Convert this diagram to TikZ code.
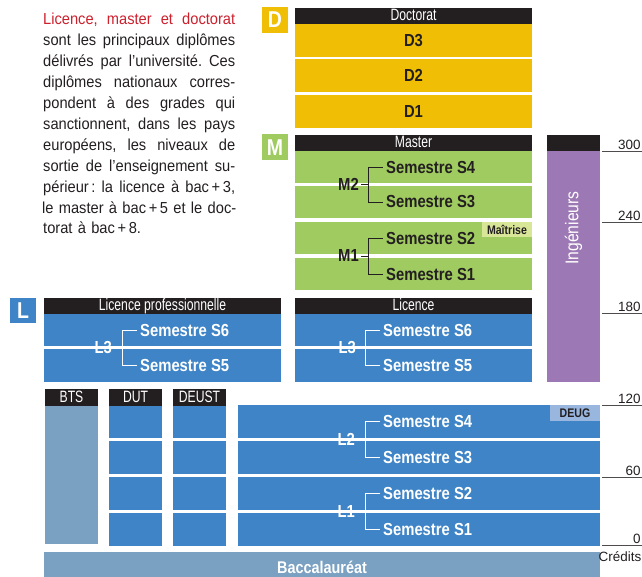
\documentclass[tikz,border=0pt]{standalone}
\usepackage{fontspec}
\setmainfont{Liberation Sans}[FakeStretch=0.85]
\newfontfamily\narrowfont{Liberation Sans}[FakeStretch=0.74]
\newfontfamily\bodyfont{Liberation Sans}[FakeStretch=0.92]
\newfontfamily\plainfont{Liberation Sans}

\definecolor{docyellow}{RGB}{240,190,5}
\definecolor{masgreen}{RGB}{160,203,96}
\definecolor{maitgreen}{RGB}{216,230,152}
\definecolor{licblue}{RGB}{62,132,198}
\definecolor{deugblue}{RGB}{152,182,222}
\definecolor{bacgrey}{RGB}{122,160,194}
\definecolor{ingviolet}{RGB}{156,120,180}
\definecolor{hdrblack}{RGB}{35,31,32}
\definecolor{introred}{RGB}{205,32,45}
\definecolor{txtdark}{RGB}{35,31,32}

\begin{document}
\begin{tikzpicture}[x=1bp,y=-1bp,
  hdr/.style={fill=hdrblack,text=white,inner sep=0pt,minimum height=16bp,
    text height=12bp,text depth=2.5bp,font=\narrowfont\fontsize{16.5}{17}\selectfont},
  badge/.style={text=white,inner sep=0pt,minimum width=26bp,minimum height=26bp,
    font=\bfseries\fontsize{23}{23}\selectfont},
  dbox/.style={fill=docyellow,text=txtdark,inner sep=0pt,minimum width=237bp,
    minimum height=33bp,font=\bfseries\fontsize{17.5}{18}\selectfont},
  sem/.style={anchor=west,inner xsep=3bp,inner ysep=0pt,font=\bfseries\fontsize{17.5}{18}\selectfont},
  yr/.style={anchor=east,inner xsep=2bp,inner ysep=0pt,font=\bfseries\fontsize{17.5}{18}\selectfont},
  brk/.style={line width=0.8bp},
  tag/.style={text=txtdark,inner sep=0pt,font=\bfseries\fontsize{12.5}{12.5}\selectfont},
  credit/.style={anchor=south east,inner sep=1bp,text=txtdark,font=\plainfont\fontsize{13.5}{14}\selectfont},
  scaleline/.style={line width=0.8bp,draw=txtdark!80}]
\useasboundingbox (0,0) rectangle (642,577);

% Intro text
\node[anchor=north west,inner sep=0pt,text width=192bp,align=left,text=txtdark,
  font=\bodyfont\fontsize{16}{21}\selectfont] (intro) at (43,13) {%
\makebox[192bp]{\color{introred}Licence,~\hfill master~\hfill et~\hfill doctorat}\\
\makebox[192bp]{sont~\hfill les~\hfill principaux~\hfill diplômes}\\
\makebox[192bp]{délivrés~\hfill par~\hfill l’université.~\hfill Ces}\\
\makebox[192bp]{diplômes~\hfill nationaux~\hfill corres-}\\
\makebox[192bp]{pondent~\hfill à~\hfill des~\hfill grades~\hfill qui}\\
\makebox[192bp]{sanctionnent,~\hfill dans~\hfill les~\hfill pays}\\
\makebox[192bp]{européens,~\hfill les~\hfill niveaux~\hfill de}\\
\makebox[192bp]{sortie~\hfill de~\hfill l’enseignement~\hfill su-}\\
\makebox[192bp]{périeur\,:~\hfill la~\hfill licence~\hfill à~\hfill bac\,+\,3,}\\
\makebox[192bp]{le~\hfill master~\hfill à~\hfill bac\,+\,5~\hfill et~\hfill le~\hfill doc-}\\
torat à bac\,+\,8.};

% Doctorat
\node[badge,fill=docyellow] (dlogo) at (275,20) {D};
\node[hdr,minimum width=237bp] (dhead) at (413.5,16) {Doctorat};
\node[dbox] (d3) at (413.5,40.5) {D3};
\node[dbox] (d2) at (413.5,75.5) {D2};
\node[dbox] (d1) at (413.5,111.5) {D1};

% Master
\node[badge,fill=masgreen] (mlogo) at (275,147.5) {M};
\node[hdr,minimum width=237bp] (mhead) at (413.5,143) {Master};
\fill[masgreen] (295,151) rectangle (532,183);
\fill[masgreen] (295,186) rectangle (532,218);
\fill[masgreen] (295,222) rectangle (532,254);
\fill[masgreen] (295,258) rectangle (532,290);
\node[tag,fill=maitgreen,minimum width=50bp,minimum height=15bp] (maitrise) at (507,229.5) {Maîtrise};
\node[sem,text=txtdark] (ms4) at (383,167) {Semestre S4};
\node[sem,text=txtdark] (ms3) at (383,202) {Semestre S3};
\node[sem,text=txtdark] (ms2) at (383,238) {Semestre S2};
\node[sem,text=txtdark] (ms1) at (383,274) {Semestre S1};
\node[yr,text=txtdark] (m2) at (361,184.5) {M2};
\node[yr,text=txtdark] (m1) at (361,256) {M1};
\draw[brk,txtdark] (ms4.west) -- ++(-15,0) coordinate (m2v) |- (ms3.west);
\draw[brk,txtdark] (m2.east) -- (m2.east -| m2v);
\draw[brk,txtdark] (ms2.west) -- ++(-15,0) coordinate (m1v) |- (ms1.west);
\draw[brk,txtdark] (m1.east) -- (m1.east -| m1v);

% Ingenieurs
\fill[hdrblack] (547,135) rectangle (600,151);
\fill[ingviolet] (547,151) rectangle (600,382);
\node[rotate=90,text=white,inner sep=0pt,font=\fontsize{18.5}{19}\selectfont] (ing) at (573.5,228) {Ingénieurs};

% Licence professionnelle
\node[badge,fill=licblue,minimum height=25bp] (llogo) at (23,310.5) {L};
\node[hdr,minimum width=237bp] (lphead) at (162.5,306) {Licence professionnelle};
\fill[licblue] (44,314) rectangle (281,346);
\fill[licblue] (44,349) rectangle (281,382);
\node[sem,text=white] (lps6) at (137,330) {Semestre S6};
\node[sem,text=white] (lps5) at (137,365.5) {Semestre S5};
\node[yr,text=white] (lpl3) at (114,347.5) {L3};
\draw[brk,white] (lps6.west) -- ++(-15,0) coordinate (lpv) |- (lps5.west);
\draw[brk,white] (lpl3.east) -- (lpl3.east -| lpv);

% Licence
\node[hdr,minimum width=237bp] (lhead) at (413.5,306) {Licence};
\fill[licblue] (295,314) rectangle (532,346);
\fill[licblue] (295,349) rectangle (532,382);
\node[sem,text=white] (ls6) at (380,330) {Semestre S6};
\node[sem,text=white] (ls5) at (380,365.5) {Semestre S5};
\node[yr,text=white] (ll3) at (358,347.5) {L3};
\draw[brk,white] (ls6.west) -- ++(-15,0) coordinate (l3v) |- (ls5.west);
\draw[brk,white] (ll3.east) -- (ll3.east -| l3v);

% BTS, DUT, DEUST
\node[hdr,minimum width=53bp,minimum height=17bp] (bts) at (71.5,397.5) {BTS};
\node[hdr,minimum width=53bp,minimum height=17bp] (dut) at (135.5,397.5) {DUT};
\node[hdr,minimum width=53bp,minimum height=17bp] (deust) at (199.5,397.5) {DEUST};
\fill[bacgrey] (45,406) rectangle (98,544);
\fill[licblue] (109,406) rectangle (162,438);
\fill[licblue] (109,441) rectangle (162,474);
\fill[licblue] (109,477) rectangle (162,510);
\fill[licblue] (109,513) rectangle (162,546);
\fill[licblue] (173,406) rectangle (226,438);
\fill[licblue] (173,441) rectangle (226,474);
\fill[licblue] (173,477) rectangle (226,510);
\fill[licblue] (173,513) rectangle (226,546);

% L1 and L2
\fill[licblue] (238,405) rectangle (600,438);
\fill[licblue] (238,441) rectangle (600,474);
\fill[licblue] (238,477) rectangle (600,510);
\fill[licblue] (238,513) rectangle (600,546);
\node[tag,fill=deugblue,minimum width=50bp,minimum height=16bp] (deug) at (575,413) {DEUG};
\node[sem,text=white] (ls4) at (380,421.5) {Semestre S4};
\node[sem,text=white] (ls3) at (380,457.5) {Semestre S3};
\node[sem,text=white] (ls2) at (380,493.5) {Semestre S2};
\node[sem,text=white] (ls1) at (380,529.5) {Semestre S1};
\node[yr,text=white] (ll2) at (357,439.5) {L2};
\node[yr,text=white] (ll1) at (357,511.5) {L1};
\draw[brk,white] (ls4.west) -- ++(-15,0) coordinate (l2v) |- (ls3.west);
\draw[brk,white] (ll2.east) -- (ll2.east -| l2v);
\draw[brk,white] (ls2.west) -- ++(-15,0) coordinate (l1v) |- (ls1.west);
\draw[brk,white] (ll1.east) -- (ll1.east -| l1v);

% Baccalaureat
\fill[bacgrey] (44,552) rectangle (600,577);
\node[anchor=base,inner sep=0pt,text=white,font=\bfseries\fontsize{17}{18}\selectfont] (bac) at (322,573) {Baccalauréat};

% Credits scale
\draw[scaleline] (602,151) -- (642,151) node[credit] (c300) {300};
\draw[scaleline] (602,222) -- (642,222) node[credit] (c240) {240};
\draw[scaleline] (602,313) -- (642,313) node[credit] (c180) {180};
\draw[scaleline] (602,405) -- (642,405) node[credit] (c120) {120};
\draw[scaleline] (602,477) -- (642,477) node[credit] (c60) {60};
\draw[scaleline] (602,545) -- (642,545) node[credit] (c0) {0};
\node[credit,anchor=north east] (cred) at (642.5,550) {Crédits};
\end{tikzpicture}
\end{document}
